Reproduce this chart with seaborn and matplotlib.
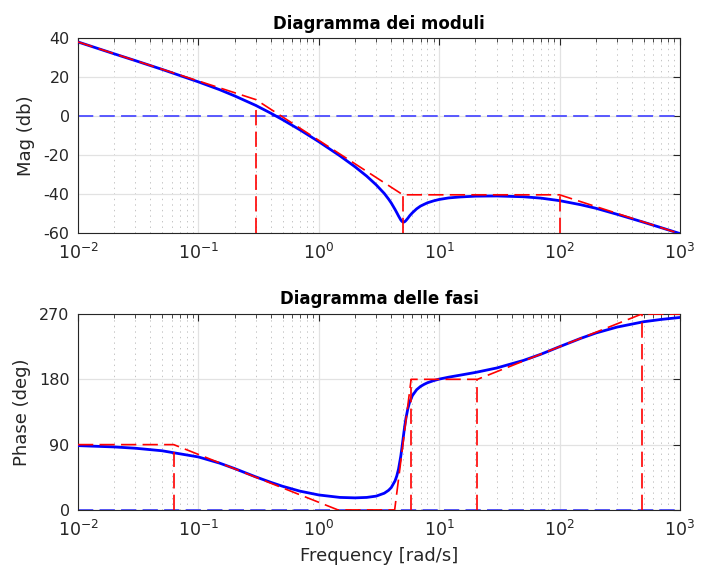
import numpy as np
import pandas as pd
import matplotlib
matplotlib.use("Agg")
import matplotlib.pyplot as plt
import seaborn as sns
from matplotlib.ticker import LogLocator, NullFormatter, FixedLocator

# ---------------- data ----------------
freq = [0.01, 0.02, 0.03, 0.05, 0.1, 0.15, 0.2, 0.3, 0.4, 0.5, 0.7, 1, 1.5, 2,
        2.5, 3, 3.5, 3.8, 4, 4.3, 4.45, 4.6, 4.8, 4.9, 5, 5.1, 5.2, 5.3, 5.5,
        5.7, 6, 6.5, 7, 7.5, 8, 9, 10, 12, 15, 20, 30, 50, 70, 100, 150, 200,
        300, 500, 700, 1000]
mag_db = [38.1, 32.0, 28.5, 24.0, 17.6, 13.6, 10.4, 5.5, 1.5, -1.8, -7.1,
          -13.1, -20.4, -26.0, -30.8, -35.3, -39.7, -42.6, -44.6, -47.9, -49.6,
          -51.3, -53.3, -54.0, -54.4, -54.4, -54.1, -53.6, -52.4, -51.1, -49.6,
          -47.6, -46.2, -45.3, -44.5, -43.5, -42.8, -42.0, -41.5, -41.1, -41.0,
          -41.4, -42.1, -43.4, -45.5, -47.3, -50.4, -54.5, -57.3, -60.3]
phase_deg = [88.6, 86.8, 85.0, 81.5, 73.0, 64.5, 57.0, 45.5, 38.0, 32.6, 25.8,
             20.6, 17.2, 16.6, 17.2, 19.0, 23.0, 27.0, 30.8, 40.0, 47.0, 56.5,
             74.1, 84.9, 96.3, 107.5, 117.7, 126.5, 139.9, 149.0, 157.7, 165.7,
             170.2, 173.1, 175.3, 178.2, 180.3, 183.0, 185.8, 189.5, 195.6,
             206.0, 214.6, 225.0, 236.5, 243.8, 252.0, 259.4, 262.6, 265.3]

# asymptotic (red dashed) approximations
asym_mag_w = [0.01, 0.3, 5, 100, 1000]
asym_mag_db = [38.1, 8.5, -40.4, -40.4, -60.4]
mag_vline_w = [0.3, 5, 100]
mag_vline_top = [5.5, -40.4, -40.4]
mag_floor = -60

asym_ph_w = [0.01, 0.0624, 1.443, 4.27, 5.85, 20.8, 481, 1000]
asym_ph_deg = [90, 90, 0, 0, 180, 180, 270, 270]
ph_vline_w = [0.0624, 5.85, 20.8, 481]
ph_vline_top = [80, 180, 180, 270]
ph_floor = 0

mag_ticks = [-60, -40, -20, 0, 20, 40]
phase_ticks = [0, 90, 180, 270]

titles = ["Diagramma dei moduli", "Diagramma delle fasi"]
ylabels = ["Mag (db)", "Phase (deg)"]
xlabel = "Frequency [rad/s]"

# ---------------- style ----------------
sns.set_style("white")
plt.rcParams['font.family'] = ['DejaVu Sans']
plt.rcParams['axes.unicode_minus'] = False
plt.rcParams['mathtext.default'] = 'regular'
plt.rcParams['lines.scale_dashes'] = False

TXT = '#262626'
BLUE = '#0000ff'
RED = '#ff0000'
DASH = (0, (11, 4.5))

fig = plt.figure(figsize=(7.09, 5.71), dpi=100)
ax1 = fig.add_axes([0.110, 0.592, 0.849, 0.341])
ax2 = fig.add_axes([0.110, 0.107, 0.849, 0.343])

df = pd.DataFrame({'freq': freq, 'mag': mag_db, 'phase': phase_deg})
df_am = pd.DataFrame({'w': asym_mag_w, 'v': asym_mag_db})
df_ap = pd.DataFrame({'w': asym_ph_w, 'v': asym_ph_deg})

for ax in (ax1, ax2):
    ax.set_xscale('log')

# magnitude
ax1.axhline(0, color='#4d4dff', lw=1.3, ls=DASH, zorder=2)
sns.lineplot(data=df, x='freq', y='mag', ax=ax1, color=BLUE, lw=2.0,
             estimator=None, sort=False, zorder=3)
sns.lineplot(data=df_am, x='w', y='v', ax=ax1, color=RED, lw=1.2,
             linestyle=DASH, estimator=None, sort=False, zorder=4)
ax1.vlines(mag_vline_w, mag_floor, mag_vline_top, colors=RED, lw=1.2,
           linestyles=[DASH], zorder=4)

# phase
ax2.axhline(0, color='#4d4dff', lw=1.3, ls=DASH, zorder=2)
sns.lineplot(data=df, x='freq', y='phase', ax=ax2, color=BLUE, lw=2.0,
             estimator=None, sort=False, zorder=3)
sns.lineplot(data=df_ap, x='w', y='v', ax=ax2, color=RED, lw=1.2,
             linestyle=DASH, estimator=None, sort=False, zorder=4)
ax2.vlines(ph_vline_w, ph_floor, ph_vline_top, colors=RED, lw=1.2,
           linestyles=[DASH], zorder=4)

ax1.set_ylim(mag_ticks[0], mag_ticks[-1])
ax1.yaxis.set_major_locator(FixedLocator(mag_ticks))
ax2.set_ylim(phase_ticks[0], phase_ticks[-1])
ax2.yaxis.set_major_locator(FixedLocator(phase_ticks))

for ax, t, yl in zip((ax1, ax2), titles, ylabels):
    ax.set_xlim(0.01, 1000)
    ax.xaxis.set_major_locator(LogLocator(base=10, numticks=12))
    ax.xaxis.set_minor_locator(LogLocator(base=10, subs=np.arange(2, 10), numticks=12))
    ax.xaxis.set_minor_formatter(NullFormatter())
    ax.grid(True, which='major', color='#e2e2e2', lw=0.9, ls='-')
    ax.grid(True, which='minor', axis='x', color='#c4c4c4', lw=0.7, ls=(0, (1, 3)))
    ax.set_axisbelow(True)
    ax.tick_params(which='both', direction='in', top=True, right=True,
                   colors=TXT, labelcolor=TXT)
    ax.tick_params(which='major', length=5, width=0.8)
    ax.tick_params(which='minor', length=3, width=0.6)
    ax.tick_params(axis='y', labelsize=11.5, pad=6)
    ax.tick_params(axis='x', labelsize=12.5, pad=7)
    for s in ax.spines.values():
        s.set_color(TXT)
        s.set_linewidth(0.8)
        s.set_visible(True)
    ax.set_title(t, fontsize=12, fontweight='bold', color='black', pad=7)
    ax.set_ylabel(yl, fontsize=13, color=TXT, labelpad=6)
    ax.set_xlabel('')

ax2.set_xlabel(xlabel, fontsize=13, color=TXT, labelpad=5)

fig.savefig('out.png', dpi=100)
